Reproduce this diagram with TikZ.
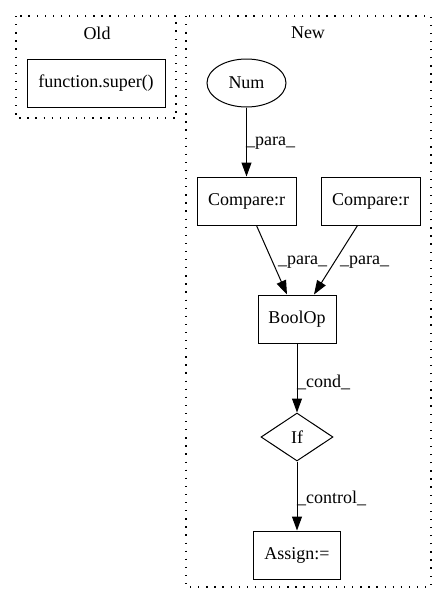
\documentclass[tikz,border=0pt]{standalone}
\usepackage{fontspec}
\setmainfont{Liberation Serif}
\usetikzlibrary{arrows.meta,shapes.geometric}
\begin{document}
\begin{tikzpicture}[x=1pt,y=-1pt,
  every node/.style={font=\fontsize{18pt}{20pt}\selectfont},
  box/.style={draw,line width=1pt,rectangle,inner sep=0pt},
  cluster/.style={draw,line width=1.1pt,dash pattern=on 1.3pt off 6.8pt},
  edge/.style={line width=1pt,-{Triangle[length=14pt,width=10pt]}},
  elabel/.style={anchor=west,inner sep=0pt}]
\useasboundingbox (0,0) rectangle (447,606);
% clusters
\draw[cluster] (16,16) rectangle (176,118);
\draw[cluster] (186,16) rectangle (431,587);
\node (oldl) at (97,33) {Old};
\node (newl) at (308,33) {New};
% nodes
\node[box,minimum width=138pt,minimum height=48pt] (fs) at (96,83) {function.super()};
\node[draw,line width=1pt,ellipse,minimum width=79pt,minimum height=48pt,inner sep=0pt] (num) at (246.5,83) {Num};
\node[box,minimum width=99pt,minimum height=48pt] (c1) at (246.5,201) {Compare:r};
\node[box,minimum width=99pt,minimum height=48pt] (c2) at (370.5,201) {Compare:r};
\node[box,minimum width=78pt,minimum height=48pt] (bo) at (297,319) {BoolOp};
\node[draw,line width=1pt,diamond,aspect=1.5,minimum width=72pt,minimum height=48pt,inner sep=0pt] (if) at (297,437) {If};
\node[box,minimum width=87pt,minimum height=48pt] (as) at (297,555) {Assign:=};
% edges
\draw[edge] (num) -- (c1);
\draw[edge] (c1.south) ++(10,0) coordinate (c1s) -- (bo.north -| 287,0) coordinate (bo1);
\draw[edge] (c2.south) ++(-13,0) coordinate (c2s) -- (bo.north -| 314,0) coordinate (bo2);
\draw[edge] (bo) -- (if);
\draw[edge] (if) -- (as);
% edge labels
\node[elabel] (l1) at (246,143) {\_para\_};
\node[elabel] (l2) at (278,262) {\_para\_};
\node[elabel] (l3) at (340,262) {\_para\_};
\node[elabel] (l4) at (297,382) {\_cond\_};
\node[elabel] (l5) at (297,498) {\_control\_};
\end{tikzpicture}
\end{document}
